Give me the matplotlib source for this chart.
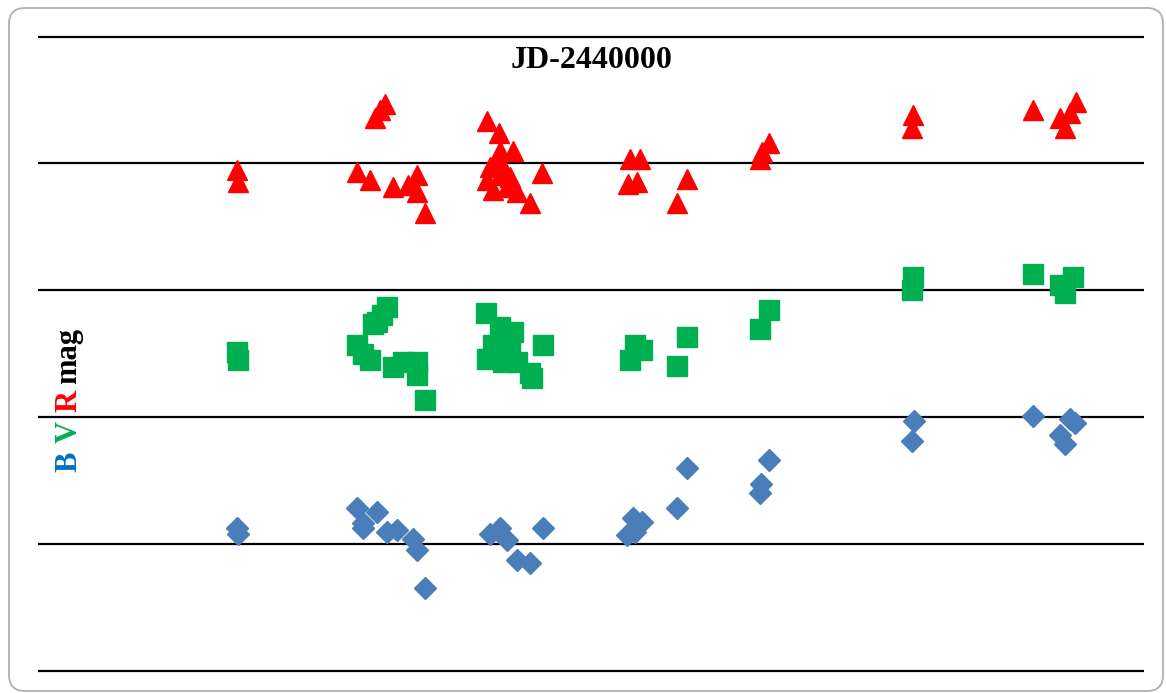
import matplotlib
matplotlib.use("Agg")
import matplotlib.pyplot as plt
from matplotlib.patches import FancyBboxPatch
from matplotlib.transforms import IdentityTransform

# JD-2440000 and magnitudes
r_jd = [3990, 4000, 5470, 5420, 5370, 5190, 5320, 5550, 5700, 5790, 5790, 5870,
        6490, 6610, 6750, 6620, 6590, 7040, 6490, 6620, 6720, 6550, 6690, 6790,
        6920, 6520, 6650, 7920, 8020, 7900, 7990, 8490, 8390, 9220, 9240, 9310,
        10750, 10740, 11950, 12220, 12270, 12320, 12380]
r_mag = [11.05, 11.15, 10.53, 10.58, 10.64, 11.07, 11.13, 11.19, 11.17, 11.09, 11.23, 11.39,
         10.67, 10.76, 10.90, 10.90, 11.00, 11.08, 11.13, 11.09, 11.11, 11.21, 11.19, 11.23,
         11.31, 11.03, 11.03, 10.97, 10.97, 11.16, 11.15, 11.12, 11.31, 10.97, 10.91, 10.84,
         10.62, 10.72, 10.58, 10.64, 10.72, 10.60, 10.52]

v_jd = [3990, 4000, 5490, 5440, 5390, 5350, 5190, 5250, 5320, 5550, 5650, 5790,
        5790, 5870, 6480, 6620, 6750, 6550, 6720, 6490, 6650, 6790, 6920, 6940,
        7050, 7970, 7920, 8040, 8490, 8390, 9220, 9310, 10750, 10740, 11950, 12350,
        12220, 12270]
v_mag = [12.49, 12.55, 12.13, 12.20, 12.25, 12.27, 12.43, 12.50, 12.55, 12.61, 12.57, 12.57,
         12.67, 12.87, 12.18, 12.29, 12.33, 12.43, 12.43, 12.54, 12.57, 12.57, 12.65, 12.69,
         12.43, 12.43, 12.55, 12.47, 12.37, 12.60, 12.31, 12.16, 11.90, 12.00, 11.87, 11.90,
         11.96, 12.02]

b_jd = [3990, 4000, 5190, 5390, 5250, 5250, 5490, 5590, 5750, 5790, 5870, 6520,
        6620, 6690, 6790, 6920, 7050, 7950, 7970, 8040, 7890, 8490, 8390, 9230,
        9220, 9310, 10760, 10740, 11950, 12370, 12220, 12270, 12320]
b_mag = [13.88, 13.92, 13.72, 13.75, 13.84, 13.88, 13.91, 13.89, 13.96, 14.05, 14.35, 13.92,
         13.88, 13.97, 14.13, 14.15, 13.88, 13.80, 13.91, 13.83, 13.93, 13.40, 13.72, 13.53,
         13.60, 13.34, 13.03, 13.19, 12.99, 13.05, 13.14, 13.21, 13.02]

grid_mags = [10, 11, 12, 13, 14, 15]
title_text = "JD-2440000"
ylabel_parts = [("B", "#0070C0"), ("V", "#00B050"), ("R", "#FF0000"), ("mag", "#000000")]

W, H = 1166, 693
fig = plt.figure(figsize=(W / 100, H / 100), dpi=100)
fig.patch.set_facecolor("white")

# rounded chart-area border
border = FancyBboxPatch((9, 2), 1154, 683, boxstyle="round,pad=0,rounding_size=16",
                        transform=IdentityTransform(), facecolor="none",
                        edgecolor="#B0B0B0", linewidth=1.3)
fig.patches.append(border)

# axes: gridline 10 at px 36.5, 15 at px 670.5 (image coords)
upp = 1 / 126.8
top_px = 36.5 - 0.05 / upp
bot_px = 670.5 + 0.05 / upp
ax = fig.add_axes([38 / W, (H - bot_px) / H, (1144 - 38) / W, (bot_px - top_px) / H])
ax.set_xlim(2000, 13060)
ax.set_ylim(15.05, 9.95)
ax.set_facecolor("none")
for s in ax.spines.values():
    s.set_visible(False)
ax.set_xticks([])
ax.set_yticks([])
for g in grid_mags:
    ax.axhline(g, color="black", lw=1.6, zorder=1)

ax.plot(b_jd, b_mag, linestyle="none", marker="D", ms=11.5, color="#4A7EBB",
        mec="#4A7EBB", zorder=3)
ax.plot(v_jd, v_mag, linestyle="none", marker="s", ms=14.5, color="#00B050",
        mec="#00B050", zorder=3)
ax.plot(r_jd, r_mag, linestyle="none", marker="^", ms=14.5, color="#FF0000",
        mec="#FF0000", zorder=3)

fig.text(592 / W, 1 - 61 / H, title_text, ha="center", va="center",
         fontsize=23, fontweight="bold", family="Liberation Serif")

# multi-coloured rotated y label, stacked bottom to top
ycenters = [462, 432, 401, 356]
for (txt, col), yc in zip(ylabel_parts, ycenters):
    fig.text(69 / W, 1 - yc / H, txt, ha="center", va="center", rotation=90,
             fontsize=22, fontweight="bold", family="Liberation Serif", color=col)

fig.savefig("out.png", dpi=100)
